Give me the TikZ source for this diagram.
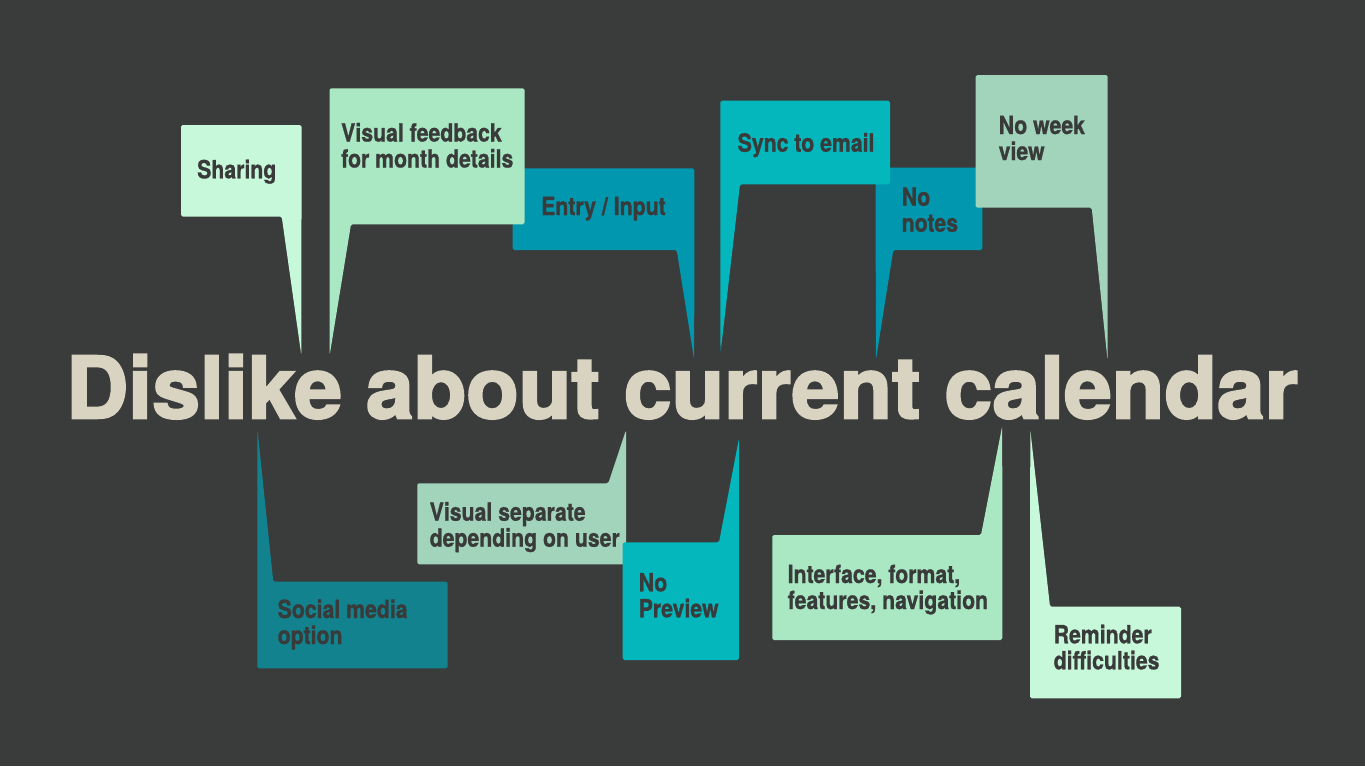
\documentclass[tikz,border=0pt]{standalone}
\usepackage{fontspec}
\setmainfont{TeX Gyre Heros}[FakeStretch=0.85, BoldFeatures={FakeBold=0.9}]
\newfontfamily\headlinefont{TeX Gyre Heros}[FakeStretch=0.85, BoldFeatures={FakeBold=2.2}]
\usepackage{graphicx}

\definecolor{bgdark}{HTML}{3A3B3B}
\definecolor{inkdark}{HTML}{393A3A}
\definecolor{titlesand}{HTML}{D9D3C1}
\definecolor{mintpale}{HTML}{C8F8DA}
\definecolor{mintmid}{HTML}{A9E8C2}
\definecolor{sage}{HTML}{A2D4BB}
\definecolor{petrol}{HTML}{0097AF}
\definecolor{cyanbright}{HTML}{04B7BC}
\definecolor{tealdeep}{HTML}{12838E}

\tikzset{
  bubble/.style={fill=#1, draw=none, rounded corners=1.6pt},
  % anchored on the baseline of the last line
  bubbletext/.style={anchor=base west, inner sep=0pt, align=left, text=inkdark,
    font=\fontsize{25}{26}\selectfont\bfseries},
}

\begin{document}
\begin{tikzpicture}[x=1pt, y=-1pt]
  % canvas
  \fill[bgdark] (0,0) rectangle (1365,766);
  \useasboundingbox (0,0) rectangle (1365,766);

  % --- speech bubbles above the title ---
  \fill[bubble=mintpale] (181,125) -- (301.5,125) -- (301.5,216.5) -- (301.3,355)
      -- (281.7,216.5) -- (181,216.5) -- cycle;
  \node[bubbletext] (sharing) at (197,178.3) {Sharing};

  \fill[bubble=petrol] (512.7,168.3) -- (694.3,168.3) -- (694.3,250) -- (694.2,360)
      -- (676.7,250) -- (512.7,250) -- cycle;
  \node[bubbletext] (entry) at (541,215) {Entry / Input};

  \fill[bubble=mintmid] (329.5,88.3) -- (524.5,88.3) -- (524.5,224.3) -- (351,224.3)
      -- (329.7,355) -- (329.5,224.3) -- cycle;
  \node[bubbletext] (feedback) at (341,167.5) {Visual feedback\\for month details};

  \fill[bubble=petrol] (875.7,167.7) -- (982.3,167.7) -- (982.3,250) -- (893.3,250)
      -- (875.9,360) -- (875.7,250) -- cycle;
  \node[bubbletext] (notes) at (901.5,231.7) {No\\notes};

  \fill[bubble=cyanbright] (720.3,100.7) -- (890,100.7) -- (890,184.3) -- (740,184.3)
      -- (720.5,353) -- (720.3,184.3) -- cycle;
  \node[bubbletext] (sync) at (737.5,151.7) {Sync to email};

  \fill[bubble=sage] (975.7,75) -- (1107.7,75) -- (1107.7,207.7) -- (1107.5,360)
      -- (1091.7,207.7) -- (975.7,207.7) -- cycle;
  \node[bubbletext] (week) at (998.5,160) {No week\\view};

  % --- speech bubbles below the title ---
  \fill[bubble=tealdeep] (257.3,668.3) -- (257.3,581.7) -- (257.5,430) -- (273.3,581.7)
      -- (447.7,581.7) -- (447.7,668.3) -- cycle;
  \node[bubbletext] (social) at (277.5,644) {Social media\\option};

  \fill[bubble=sage] (417.3,564.3) -- (417.3,483.3) -- (608.3,483.3) -- (626,430)
      -- (626,483.3) -- (626,564.3) -- cycle;
  \node[bubbletext] (separate) at (429.5,546.7) {Visual separate\\depending on user};

  \fill[bubble=cyanbright] (622.7,660) -- (622.7,542.3) -- (719,542.3) -- (739,438.3)
      -- (739,542.3) -- (739,660) -- cycle;
  \node[bubbletext] (preview) at (638.5,617.3) {No\\Preview};

  \fill[bubble=mintmid] (772.3,640) -- (772.3,535) -- (981,535) -- (1002.2,426)
      -- (1002.3,535) -- (1002.3,640) -- cycle;
  \node[bubbletext] (interface) at (787.5,609) {Interface, format,\\features, navigation};

  \fill[bubble=mintpale] (1030,698.3) -- (1030,606.7) -- (1030.3,430) -- (1050,606.7)
      -- (1181,606.7) -- (1181,698.3) -- cycle;
  \node[bubbletext] (reminder) at (1053.5,669.3) {Reminder\\difficulties};

  % --- title ---
  \node[anchor=base west, inner sep=0pt, text=titlesand] (title) at (66,418.3)
    {\resizebox{1232pt}{64pt}{\headlinefont\fontsize{90}{90}\selectfont\bfseries Dislike about current calendar}};
\end{tikzpicture}
\end{document}
